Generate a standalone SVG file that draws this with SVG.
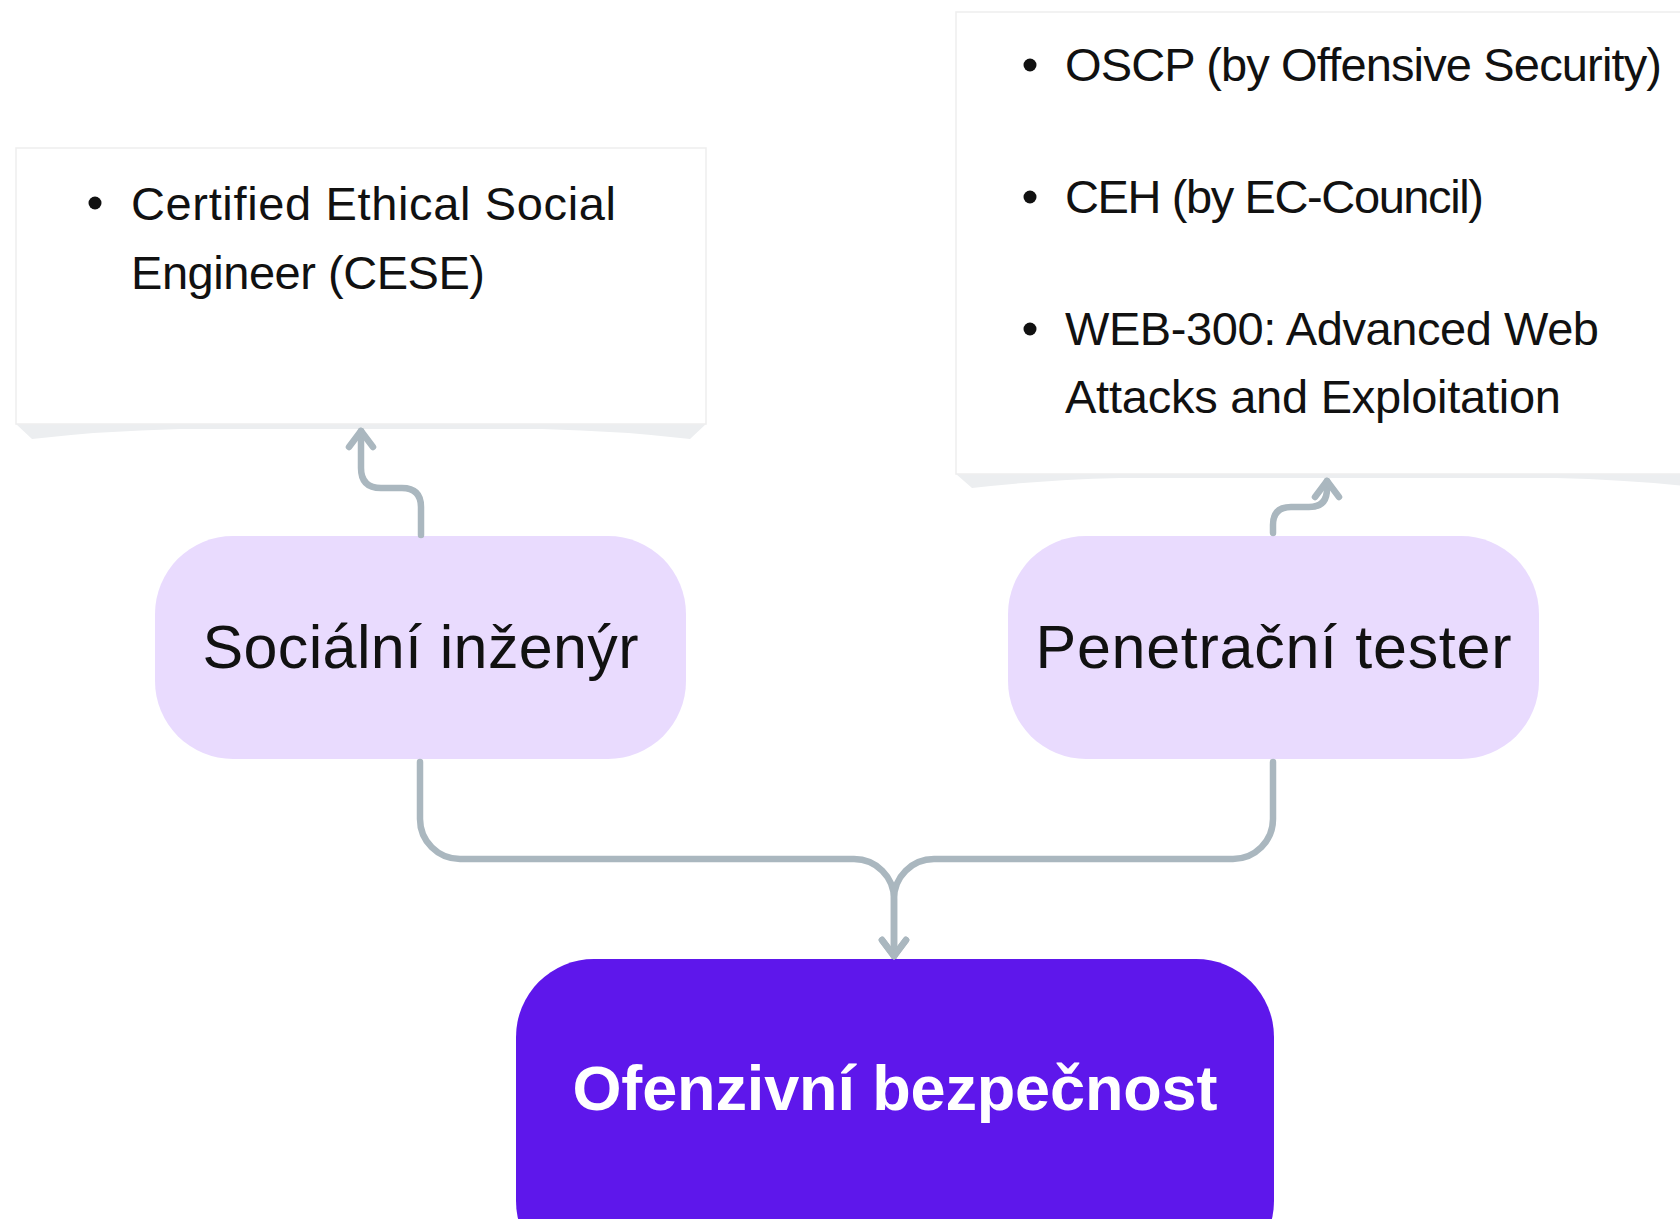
<svg xmlns="http://www.w3.org/2000/svg" width="1680" height="1219" viewBox="0 0 1680 1219">
  <style>
    .card { fill: #ffffff; stroke: #eeeeee; stroke-width: 1.5; }
    .curl { fill: #eceef0; }
    .item { font-family: "Liberation Sans", Arial, sans-serif; font-size: 47px; fill: #111111; }
    .bullet { fill: #111111; }
    .role { fill: #e9dbfe; }
    .role-label { font-family: "Liberation Sans", Arial, sans-serif; font-size: 61px; fill: #111111; text-anchor: middle; }
    .root { fill: #5e17eb; }
    .root-label { font-family: "Liberation Sans", Arial, sans-serif; font-size: 63px; font-weight: bold; fill: #ffffff; text-anchor: middle; }
    .conn { fill: none; stroke: #aab7bf; stroke-width: 6.5; stroke-linecap: round; stroke-linejoin: round; }
  </style>
  <defs>
    <marker id="chev" markerUnits="userSpaceOnUse" viewBox="-22 -16 26 32" refX="0" refY="0" markerWidth="26" markerHeight="32" orient="auto" overflow="visible">
      <path d="M-16,-12 L0,0 L-16,12" fill="none" stroke="#aab7bf" stroke-width="6.5" stroke-linecap="round" stroke-linejoin="round"/>
    </marker>
  </defs>
  <rect width="1680" height="1219" fill="#ffffff"/>

  <g id="cert-social">
    <path class="curl" d="M16,424 L32,439 Q100,431 180,429 L542,429 Q622,431 690,439 L706,424 Z"/>
    <rect class="card" x="16" y="148" width="690" height="276"/>
    <circle class="bullet" cx="95" cy="203" r="6.5"/>
    <text class="item" x="131" y="220" textLength="485">Certified Ethical Social</text>
    <text class="item" x="131" y="289" textLength="354">Engineer (CESE)</text>
  </g>

  <g id="cert-pentest">
    <path class="curl" d="M956,474 L972,488 Q1040,480 1120,478 L1556,478 Q1636,480 1704,488 L1720,474 Z"/>
    <rect class="card" x="956" y="12" width="764" height="462"/>
    <circle class="bullet" cx="1030" cy="65" r="6.5"/>
    <text class="item" x="1065" y="81" textLength="597">OSCP (by Offensive Security)</text>
    <circle class="bullet" cx="1030" cy="197" r="6.5"/>
    <text class="item" x="1065" y="213" textLength="419">CEH (by EC-Council)</text>
    <circle class="bullet" cx="1030" cy="329" r="6.5"/>
    <text class="item" x="1065" y="345" textLength="534">WEB-300: Advanced Web</text>
    <text class="item" x="1065" y="413" textLength="496">Attacks and Exploitation</text>
  </g>

  <g id="social-engineer">
    <rect class="role" x="155" y="536" width="531" height="223" rx="78" ry="78"/>
    <text class="role-label" x="420.5" y="668" textLength="436">Sociální inženýr</text>
  </g>

  <g id="pen-tester">
    <rect class="role" x="1008" y="536" width="531" height="223" rx="78" ry="78"/>
    <text class="role-label" x="1273.5" y="668" textLength="476">Penetrační tester</text>
  </g>

  <g id="offensive-security">
    <rect class="root" x="516" y="959" width="758" height="320" rx="78" ry="78"/>
    <text class="root-label" x="895" y="1110" textLength="645">Ofenzivní bezpečnost</text>
  </g>

  <g id="connectors">
    <path class="conn" d="M421,535 V507 Q421,488 402,488 H381 Q361,488 361,468 V431" marker-end="url(#chev)"/>
    <path class="conn" d="M1273,533 V525 Q1273,507 1291,507 H1309 Q1327,507 1327,489 V481" marker-end="url(#chev)"/>
    <path class="conn" d="M420,762 V819 A40,40 0 0 0 460,859 H854 A40,40 0 0 1 894,899 V956" marker-end="url(#chev)"/>
    <path class="conn" d="M1273,762 V819 A40,40 0 0 1 1233,859 H934 A40,40 0 0 0 894,899 V956" marker-end="url(#chev)"/>
  </g>
</svg>
